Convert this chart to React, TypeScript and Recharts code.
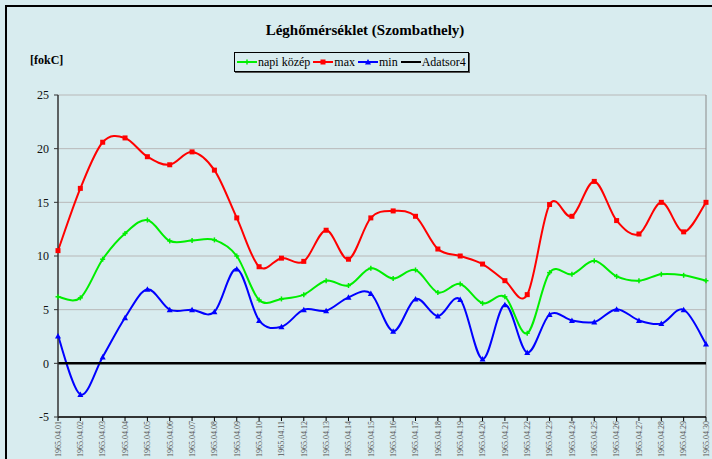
import React from 'react';
import { LineChart, Line, XAxis, YAxis, CartesianGrid, ReferenceLine } from 'recharts';

const dates = [
  '1965.04.01', '1965.04.02', '1965.04.03', '1965.04.04', '1965.04.05', '1965.04.06',
  '1965.04.07', '1965.04.08', '1965.04.09', '1965.04.10', '1965.04.11', '1965.04.12',
  '1965.04.13', '1965.04.14', '1965.04.15', '1965.04.16', '1965.04.17', '1965.04.18',
  '1965.04.19', '1965.04.20', '1965.04.21', '1965.04.22', '1965.04.23', '1965.04.24',
  '1965.04.25', '1965.04.26', '1965.04.27', '1965.04.28', '1965.04.29', '1965.04.30',
];
const napiKozep = [6.2, 6.1, 9.7, 12.1, 13.35, 11.4, 11.45, 11.5, 10.0, 5.9, 6.0, 6.4, 7.7, 7.25, 8.85, 7.9, 8.7, 6.6, 7.4, 5.6, 6.2, 2.8, 8.45, 8.3, 9.55, 8.1, 7.7, 8.3, 8.2, 7.7];
const maxT = [10.5, 16.3, 20.6, 21.0, 19.25, 18.5, 19.7, 18.0, 13.55, 9.0, 9.8, 9.5, 12.4, 9.7, 13.55, 14.2, 13.7, 10.65, 10.0, 9.25, 7.7, 6.4, 14.8, 13.7, 16.95, 13.3, 12.05, 15.0, 12.25, 15.0];
const minT = [2.55, -2.9, 0.6, 4.25, 6.9, 5.0, 5.0, 4.8, 8.8, 4.0, 3.4, 5.0, 4.9, 6.15, 6.5, 3.0, 6.0, 4.4, 5.95, 0.4, 5.45, 1.0, 4.55, 4.0, 3.85, 5.05, 4.0, 3.7, 5.0, 1.8];
const adatsor4 = [0, 0, 0, 0, 0, 0, 0, 0, 0, 0, 0, 0, 0, 0, 0, 0, 0, 0, 0, 0, 0, 0, 0, 0, 0, 0, 0, 0, 0, 0];
const yTicks = [-5, 0, 5, 10, 15, 20, 25];

const data = dates.map((d, i) => ({
  date: d,
  kozep: napiKozep[i],
  max: maxT[i],
  min: minT[i],
  a4: adatsor4[i],
}));

const FONT = '"Liberation Serif", "Times New Roman", serif';
const BG = '#d8ecef';

// Catmull-Rom style smoothing (like Excel's smoothed lines)
function smoothCurve(context: any) {
  let pts: [number, number][] = [];
  return {
    areaStart() {},
    areaEnd() {},
    lineStart() { pts = []; },
    lineEnd() {
      const n = pts.length;
      if (n === 0) return;
      context.moveTo(pts[0][0], pts[0][1]);
      for (let i = 0; i < n - 1; i++) {
        const p0 = pts[i - 1] || pts[i];
        const p1 = pts[i];
        const p2 = pts[i + 1];
        const p3 = pts[i + 2] || p2;
        context.bezierCurveTo(
          p1[0] + (p2[0] - p0[0]) / 6, p1[1] + (p2[1] - p0[1]) / 6,
          p2[0] - (p3[0] - p1[0]) / 6, p2[1] - (p3[1] - p1[1]) / 6,
          p2[0], p2[1],
        );
      }
    },
    point(x: number, y: number) { pts.push([+x, +y]); },
  };
}

const PlusDot = (props: any) => {
  const { cx, cy, key } = props;
  if (cx == null || cy == null) return null;
  return (
    <g key={key}>
      <line x1={cx - 2.5} y1={cy} x2={cx + 2.5} y2={cy} stroke="#00ee00" strokeWidth={1.5} />
      <line x1={cx} y1={cy - 2.5} x2={cx} y2={cy + 2.5} stroke="#00ee00" strokeWidth={1.5} />
    </g>
  );
};
const SquareDot = (props: any) => {
  const { cx, cy, key } = props;
  if (cx == null || cy == null) return null;
  return <rect key={key} x={cx - 2.5} y={cy - 2.5} width={5} height={5} fill="#ff0000" />;
};
const TriDot = (props: any) => {
  const { cx, cy, key } = props;
  if (cx == null || cy == null) return null;
  return <path key={key} d={`M${cx},${cy - 3}L${cx + 3},${cy + 2.5}L${cx - 3},${cy + 2.5}Z`} fill="#0000ff" />;
};

const XTick = (props: any) => {
  const { x, y, payload } = props;
  return (
    <text
      x={x}
      y={y - 1}
      transform={`rotate(-90 ${x} ${y - 1})`}
      textAnchor="end"
      dy="0.35em"
      fontSize={8}
      fontFamily={FONT}
      fill="#555"
    >
      {payload.value}
    </text>
  );
};

const legendItems = [
  { label: 'napi közép', color: '#00ee00', marker: 'plus' },
  { label: 'max', color: '#ff0000', marker: 'square' },
  { label: 'min', color: '#0000ff', marker: 'tri' },
  { label: 'Adatsor4', color: '#000000', marker: 'none' },
];

const LegendBox = () => (
  <div
    style={{
      position: 'absolute',
      left: 234,
      top: 52,
      display: 'flex',
      alignItems: 'center',
      border: '1px solid #000',
      boxShadow: '1px 1px 0 #555',
      height: 18,
      padding: '0 2px',
      fontFamily: FONT,
      fontSize: 12,
      color: '#000',
      background: BG,
      whiteSpace: 'nowrap',
    }}
  >
    {legendItems.map((it, i) => (
      <span key={it.label} style={{ display: 'flex', alignItems: 'center', marginRight: i === legendItems.length - 1 ? 0 : 3 }}>
        <svg width={20} height={10} style={{ marginRight: 1 }}>
          <line x1={0} y1={5} x2={20} y2={5} stroke={it.color} strokeWidth={2} />
          {it.marker === 'plus' && (
            <g>
              <line x1={7.5} y1={5} x2={12.5} y2={5} stroke={it.color} strokeWidth={1.5} />
              <line x1={10} y1={2.5} x2={10} y2={7.5} stroke={it.color} strokeWidth={1.5} />
            </g>
          )}
          {it.marker === 'square' && <rect x={7.5} y={2.5} width={5} height={5} fill={it.color} />}
          {it.marker === 'tri' && <path d="M10,2L13,7.5L7,7.5Z" fill={it.color} />}
        </svg>
        <span>{it.label}</span>
      </span>
    ))}
  </div>
);

export default function App() {
  return (
    <div
      style={{
        position: 'fixed',
        left: 0,
        top: 0,
        width: 712,
        height: 459,
        overflow: 'hidden',
        background: BG,
        fontFamily: FONT,
      }}
    >
      <div
        style={{
          position: 'absolute',
          left: 5,
          top: 5,
          width: 740,
          height: 480,
          border: '2px solid #000',
          boxSizing: 'border-box',
        }}
      />
      <div
        style={{
          position: 'absolute',
          left: 0,
          top: 21,
          width: 730,
          textAlign: 'center',
          fontFamily: FONT,
          fontWeight: 'bold',
          fontSize: 15,
          lineHeight: '18px',
          color: '#000',
        }}
      >
        Léghőmérséklet (Szombathely)
      </div>
      <div
        style={{
          position: 'absolute',
          left: 30,
          top: 52,
          fontFamily: FONT,
          fontWeight: 'bold',
          fontSize: 12,
          lineHeight: '16px',
          color: '#000',
        }}
      >
        [fokC]
      </div>
      <LegendBox />
      <div style={{ position: 'absolute', left: 0, top: 0 }}>
        <LineChart
          width={712}
          height={459}
          data={data}
          margin={{ top: 95, right: 6, bottom: 0, left: 0 }}
        >
          <CartesianGrid vertical={false} stroke="#b8b8b8" strokeWidth={1} />
          <XAxis
            dataKey="date"
            interval={0}
            height={42}
            tick={<XTick />}
            tickSize={4}
            tickMargin={1}
            axisLine={{ stroke: '#000', strokeWidth: 1.5 }}
            tickLine={{ stroke: '#000' }}
          />
          <YAxis
            width={58}
            domain={[-5, 25]}
            ticks={yTicks}
            allowDataOverflow
            tickSize={4}
            tickMargin={5}
            axisLine={{ stroke: '#333', strokeWidth: 1.5 }}
            tickLine={{ stroke: '#333' }}
            tick={{ fontSize: 12, fontFamily: FONT, fill: '#111' }}
          />
          <ReferenceLine x={dates[dates.length - 1]} stroke="#8a8a8a" strokeWidth={1} />
          <Line
            dataKey="kozep"
            name="napi közép"
            type={smoothCurve as any}
            stroke="#00ee00"
            strokeWidth={2}
            dot={<PlusDot />}
            activeDot={false}
            isAnimationActive={false}
          />
          <Line
            dataKey="max"
            name="max"
            type={smoothCurve as any}
            stroke="#ff0000"
            strokeWidth={2}
            dot={<SquareDot />}
            activeDot={false}
            isAnimationActive={false}
          />
          <Line
            dataKey="min"
            name="min"
            type={smoothCurve as any}
            stroke="#0000ff"
            strokeWidth={2}
            dot={<TriDot />}
            activeDot={false}
            isAnimationActive={false}
          />
          <Line
            dataKey="a4"
            name="Adatsor4"
            type="linear"
            stroke="#000"
            strokeWidth={2.5}
            dot={false}
            activeDot={false}
            isAnimationActive={false}
          />
        </LineChart>
      </div>
    </div>
  );
}
